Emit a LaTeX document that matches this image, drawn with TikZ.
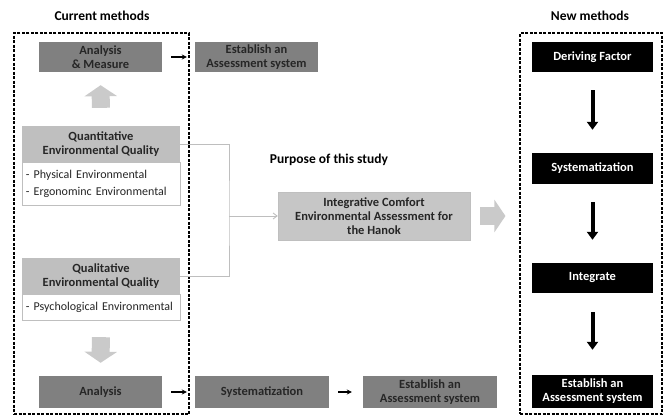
\documentclass[tikz,border=0pt]{standalone}
\usepackage{fontspec}
\setmainfont{Carlito}
\usetikzlibrary{arrows.meta}
\definecolor{boxgray}{RGB}{128,128,128}
\definecolor{headgray}{RGB}{191,191,191}
\definecolor{purpgray}{RGB}{198,198,198}
\definecolor{arrgray}{RGB}{202,202,202}
\definecolor{linegray}{RGB}{190,190,190}
\definecolor{txtgray}{RGB}{38,38,38}
\tikzset{
    boxfont/.style={font=\fontsize{12.5}{14}\selectfont\bfseries},
    graybox/.style={boxfont,fill=boxgray,text=txtgray,inner sep=0pt,align=center},
    headbox/.style={boxfont,fill=headgray,text=txtgray,inner sep=0pt,align=center,minimum width=158pt,minimum height=36pt},
    listbox/.style={draw=headgray,fill=white,text=txtgray,align=left,inner xsep=4pt,inner ysep=0pt,
        text width=150pt,font=\fontsize{12}{17}\selectfont,execute at begin node={\hyphenpenalty=10000\relax}},
    blackbox/.style={boxfont,fill=black,text=white,inner sep=0pt,align=center,minimum width=121pt},
    frame/.style={draw,line width=1.1pt,dash pattern=on 3pt off 1.5pt},
    headline/.style={font=\fontsize{13.5}{15}\selectfont\bfseries},
    fatarrow/.style={draw=arrgray,line width=18pt,-{Triangle[length=11pt,width=32pt]}},
    blackarrow/.style={draw=black,line width=4pt,-{Triangle[length=8pt,width=11pt]}},
    smallarrow/.style={draw=black,line width=1.2pt,-{Stealth[length=5pt,width=5pt]}},
    link/.style={draw=linegray,line width=0.9pt}
}
\begin{document}
\begin{tikzpicture}[x=1pt,y=-1pt]
                    \useasboundingbox (0,0) rectangle (665,416);
                    \node[headline] (curtitle) at (102,16) {Current methods};
                    \node[headline] (newtitle) at (590,16) {New methods};
                    \node[frame,minimum width=175pt,minimum height=381pt] (curframe) at (101.5,223.5) {};
                    \node[frame,minimum width=142pt,minimum height=381pt] (newframe) at (591,223.5) {};

                    % current methods
                    \node[graybox,minimum width=123pt,minimum height=30pt] (measure) at (100.5,57) {Analysis\\ \& Measure};
                    \node[graybox,minimum width=123pt,minimum height=30pt] (assess) at (256.5,57) {Establish an\\ Assessment system};
                    \node[listbox,minimum height=43pt] (quantlist) at (101,183.5) {- Physical Environmental\\- Ergonominc Environmental};
                    \node[headbox] (quant) at (101,144) {Quantitative\\ Environmental Quality};
                    \node[listbox,minimum height=26pt] (quallist) at (101,307) {- Psychological Environmental};
                    \node[headbox] (qual) at (101,276) {Qualitative\\ Environmental Quality};
                    \node[graybox,minimum width=123pt,minimum height=32pt] (analysis) at (100.5,392) {Analysis};
                    \node[graybox,minimum width=134pt,minimum height=32pt] (system) at (262,392) {Systematization};
                    \node[graybox,minimum width=134pt,minimum height=32pt] (assessb) at (430,392) {Establish an\\ Assessment system};

                    % purpose of this study
                    \node[headline] (purpose) at (329,160) {Purpose of this study};
                    \node[graybox,fill=purpgray,draw=headgray,line width=0.4pt,minimum width=192pt,minimum height=48pt] (integ) at (374,216) {Integrative Comfort\\ Environmental Assessment for\\ the Hanok};
                    \coordinate (join) at (229,216);

                    % new methods
                    \node[blackbox,minimum height=30pt] (factor) at (592.5,57) {Deriving Factor};
                    \node[blackbox,minimum height=31pt] (systemn) at (592.5,168.5) {Systematization};
                    \node[blackbox,minimum height=30pt] (integrate) at (592.5,278) {Integrate};
                    \node[blackbox,minimum height=33pt] (assessn) at (592.5,391.5) {Establish an\\ Assessment system};

                    \draw[fatarrow,shorten <=18pt,shorten >=13pt] (quant.north) -- (measure.south);
                    \draw[fatarrow,shorten <=17pt,shorten >=13pt] (quallist.south) -- (analysis.north);
                    \draw[fatarrow,shorten <=10pt,shorten >=14pt] (integ.east) -- (integ.east -| newframe.west);
                    \draw[smallarrow,shorten <=9pt,shorten >=8pt] (measure) -- (assess);
                    \draw[smallarrow,shorten <=9pt,shorten >=8pt] (analysis) -- (system);
                    \draw[smallarrow,shorten <=9pt,shorten >=11pt] (system) -- (assessb);
                    \draw[link] (quant.east) -| (join) |- (qual.east);
                    \draw[link,-{Straight Barb[length=4pt,width=6pt]}] (join) -- (integ.west);
                    \draw[blackarrow,shorten <=18pt,shorten >=23pt] (factor) -- (systemn);
                    \draw[blackarrow,shorten <=18pt,shorten >=23pt] (systemn) -- (integrate);
                    \draw[blackarrow,shorten <=19pt,shorten >=25pt] (integrate) -- (assessn);
                \end{tikzpicture}
\end{document}
